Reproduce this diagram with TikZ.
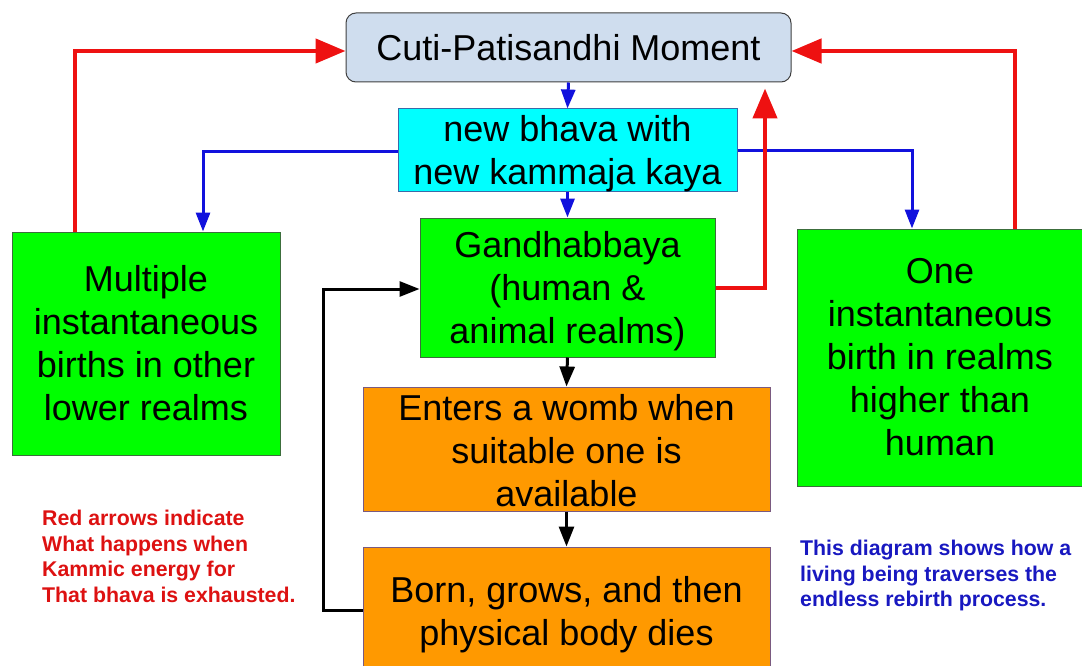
\documentclass[tikz,border=0pt]{standalone}
\usepackage{fontspec}
\setmainfont{Liberation Sans}
\usetikzlibrary{arrows.meta}
\definecolor{cutifill}{HTML}{CFDDEE}
\definecolor{cyanfill}{HTML}{00FFFF}
\definecolor{greenfill}{HTML}{00FF00}
\definecolor{orangefill}{HTML}{FF9900}
\definecolor{greenedge}{HTML}{3C6E3C}
\definecolor{orangeedge}{HTML}{7A5A80}
\definecolor{cyanedge}{HTML}{3A6AA8}
\definecolor{redarrow}{HTML}{EE1111}
\definecolor{bluearrow}{HTML}{1111DD}
\definecolor{redtext}{HTML}{DD1111}
\definecolor{bluetext}{HTML}{1818C0}
\tikzset{
  boxtext/.style={inner sep=0pt, align=center, font=\fontsize{36}{43}\selectfont},
  box/.style={boxtext, draw, line width=1pt},
  cutibox/.style={box, fill=cutifill, draw=black!75, rounded corners=10pt},
  cyanbox/.style={box, fill=cyanfill, draw=cyanedge},
  greenbox/.style={box, fill=greenfill, draw=greenedge},
  orangebox/.style={box, fill=orangefill, draw=orangeedge},
  redline/.style={draw=redarrow, line width=4.5pt, -{Triangle[length=30pt,width=24pt]}},
  blueline/.style={draw=bluearrow, line width=3pt, -{Triangle[length=19pt,width=14pt]}},
  blackline/.style={draw=black, line width=3pt, -{Triangle[length=20pt,width=15pt]}},
  note/.style={align=left, inner sep=0pt, anchor=north west,
    font=\fontsize{21.3}{25.5}\selectfont\bfseries}
}
\begin{document}
\begin{tikzpicture}[x=1pt,y=-1pt]
\useasboundingbox (0,0) rectangle (1082,666);
% boxes
\node[cutibox, minimum width=445pt, minimum height=69pt] (cuti) at (568.5,47.5) {Cuti-Patisandhi Moment};
\node[cyanbox, minimum width=339pt, minimum height=82pt] (bhava) at (567.5,150) {};
\node[boxtext] (bhavatext) at (567.5,154) {new bhava with\\new kammaja kaya};
\node[greenbox, minimum width=295pt, minimum height=139pt] (gandh) at (567.5,287.5) {};
\node[boxtext] (gandhtext) at (567.5,291) {Gandhabbaya\\(human \&\\animal realms)};
\node[greenbox, minimum width=268pt, minimum height=223pt] (multi) at (146,343.5) {Multiple\\instantaneous\\births in other\\lower realms};
\node[greenbox, minimum width=286pt, minimum height=257pt] (one) at (940,357.5) {One\\instantaneous\\birth in realms\\higher than\\human};
\node[orangebox, minimum width=407pt, minimum height=124pt] (womb) at (566.5,449) {};
\node[boxtext] (wombtext) at (566.5,451) {Enters a womb when\\suitable one is\\available};
\node[orangebox, minimum width=407pt, minimum height=130pt] (born) at (566.5,612) {};
\node[boxtext] (borntext) at (566.5,614.5) {Born, grows, and then\\physical body dies};
% notes
\node[note, text=redtext] (rednote) at (42,510) {Red arrows indicate\\What happens when\\Kammic energy for\\That bhava is exhausted.};
\node[note, text=bluetext] (bluenote) at (800,540) {This diagram shows how a\\living being traverses the\\endless rebirth process.};
% coordinates for bends
\coordinate (lb) at (203,152);
\coordinate (rb) at (912,151);
\coordinate (lr) at (75,51);
\coordinate (rr) at (1015,51);
\coordinate (mr) at (765,288);
\coordinate (bl) at (323,610);
\coordinate (tl) at (323,289);
% blue arrows
\draw[blueline] (cuti.south) -- (bhava.north);
\draw[blueline] (bhava.south) -- (gandh.north);
\draw[blueline] (bhava.west |- lb) -- (lb) -- (lb |- multi.north);
\draw[blueline] (bhava.east |- rb) -- (rb) -- (rb |- one.north);
% red arrows
\draw[redline] (lr |- multi.north) -- (lr) -- (cuti.west |- lr);
\draw[redline] (rr |- one.north) -- (rr) -- (cuti.east |- rr);
\draw[redline] (gandh.east |- mr) -- (mr) -- ([yshift=-6pt]mr |- cuti.south);
% black arrows
\draw[blackline] (gandh.south) -- (womb.north);
\draw[blackline] (womb.south) -- (born.north);
\draw[blackline] (born.west |- bl) -- (bl) -- (tl) -- (gandh.west |- tl);
\end{tikzpicture}
\end{document}
